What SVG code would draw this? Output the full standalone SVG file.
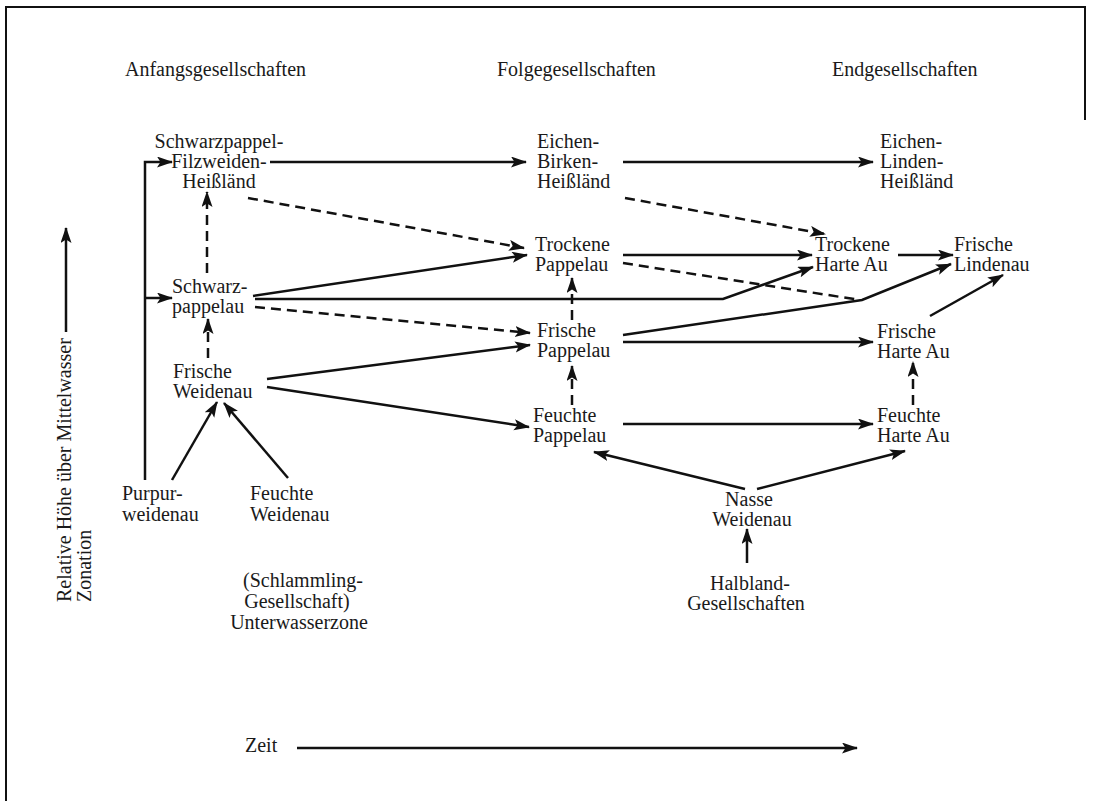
<svg xmlns="http://www.w3.org/2000/svg" width="1093" height="801" viewBox="0 0 1093 801">
<defs>
<marker id="ah" markerUnits="userSpaceOnUse" markerWidth="18" markerHeight="12" refX="15" refY="5.5" orient="auto">
<path d="M0,0 L16,5.5 L0,11 L3.5,5.5 z" fill="#111" stroke="none"/>
</marker>
<style>
text{font-family:"Liberation Serif","Times New Roman",serif;font-size:20px;fill:#1a1a1a}
.ln{fill:none;stroke:#111;stroke-width:2.5;marker-end:url(#ah)}
.ln.no{marker-end:none}
.ds{stroke-dasharray:10 6}
.c{text-anchor:middle}
</style>
</defs>
<rect width="1093" height="801" fill="#fff"/>
<g id="frame" fill="none" stroke="#111" stroke-width="2">
<path d="M6,801 V7 H1085 V120"/>
</g>
<g id="headers">
<text x="125" y="76">Anfangsgesellschaften</text>
<text x="497" y="76">Folgegesellschaften</text>
<text x="832" y="76">Endgesellschaften</text>
</g>
<g id="n_schwarzpappel_filzweiden" class="c">
<text x="219" y="148">Schwarzpappel-</text>
<text x="219" y="168">Filzweiden-</text>
<text x="219" y="188">Heißländ</text>
</g>
<g id="n_eichen_birken">
<text x="537" y="148">Eichen-</text>
<text x="537" y="168">Birken-</text>
<text x="537" y="188">Heißländ</text>
</g>
<g id="n_eichen_linden">
<text x="880" y="148">Eichen-</text>
<text x="880" y="168">Linden-</text>
<text x="880" y="188">Heißländ</text>
</g>
<g id="n_trockene_pappelau">
<text x="535" y="251">Trockene</text>
<text x="535" y="271">Pappelau</text>
</g>
<g id="n_trockene_harte_au">
<text x="815" y="251">Trockene</text>
<text x="815" y="271">Harte Au</text>
</g>
<g id="n_frische_lindenau">
<text x="954" y="251">Frische</text>
<text x="954" y="271">Lindenau</text>
</g>
<g id="n_schwarzpappelau">
<text x="172" y="293">Schwarz-</text>
<text x="172" y="313">pappelau</text>
</g>
<g id="n_frische_weidenau">
<text x="173" y="378">Frische</text>
<text x="173" y="398">Weidenau</text>
</g>
<g id="n_frische_pappelau">
<text x="537" y="337">Frische</text>
<text x="537" y="357">Pappelau</text>
</g>
<g id="n_frische_harte_au">
<text x="877" y="338">Frische</text>
<text x="877" y="358">Harte Au</text>
</g>
<g id="n_feuchte_pappelau">
<text x="533" y="422">Feuchte</text>
<text x="533" y="442">Pappelau</text>
</g>
<g id="n_feuchte_harte_au">
<text x="877" y="422">Feuchte</text>
<text x="877" y="442">Harte Au</text>
</g>
<g id="n_purpurweidenau">
<text x="122" y="500">Purpur-</text>
<text x="122" y="521">weidenau</text>
</g>
<g id="n_feuchte_weidenau">
<text x="250" y="500">Feuchte</text>
<text x="250" y="521">Weidenau</text>
</g>
<g id="n_schlammling" class="c">
<text x="303" y="587">(Schlammling-</text>
<text x="297" y="608">Gesellschaft)</text>
<text x="299" y="629">Unterwasserzone</text>
</g>
<g id="n_nasse_weidenau" class="c">
<text x="749" y="506">Nasse</text>
<text x="752" y="526">Weidenau</text>
</g>
<g id="n_halbland" class="c">
<text x="750" y="590">Halbland-</text>
<text x="746" y="610">Gesellschaften</text>
</g>
<g id="axis_y">
<text transform="translate(71,602) rotate(-90)">Relative Höhe über Mittelwasser</text>
<text transform="translate(91,602) rotate(-90)">Zonation</text>
</g>
<g id="axis_x">
<text x="245" y="752">Zeit</text>
</g>
<g id="connectors">
<path class="ln" d="M66,332 V228"/>
<path class="ln" d="M297,748 H857"/>
<path class="ln" d="M145,480 V162 H172"/>
<path class="ln" d="M145,298 H172"/>
<path class="ln" d="M270,162 H526"/>
<path class="ln" d="M623,162 H873"/>
<path class="ln ds" d="M248,198 L524,248"/>
<path class="ln ds" d="M625,198 L825,234"/>
<path class="ln" d="M623,255 H812"/>
<path class="ln" d="M898,255 H953"/>
<path class="ln ds no" d="M623,263 L860,300"/>
<path class="ln" d="M255,299 H723 L813,267"/>
<path class="ln" d="M253,296 L527,255"/>
<path class="ln ds" d="M255,307 L530,333"/>
<path class="ln" d="M623,335 L862,300 L951,264"/>
<path class="ln" d="M930,316 L1003,275"/>
<path class="ln ds" d="M208,358 V319"/>
<path class="ln ds" d="M207,273 V192"/>
<path class="ln" d="M267,379 L530,345"/>
<path class="ln" d="M267,387 L529,427"/>
<path class="ln" d="M172,480 L217,402"/>
<path class="ln" d="M288,478 L224,403"/>
<path class="ln" d="M623,342 H873"/>
<path class="ln ds" d="M572,405 V366"/>
<path class="ln ds" d="M572,320 V278"/>
<path class="ln" d="M623,424 H873"/>
<path class="ln ds" d="M913,405 V362"/>
<path class="ln" d="M745,489 L594,452"/>
<path class="ln" d="M757,489 L905,451"/>
<path class="ln" d="M747,563 V529"/>
</g>
</svg>
